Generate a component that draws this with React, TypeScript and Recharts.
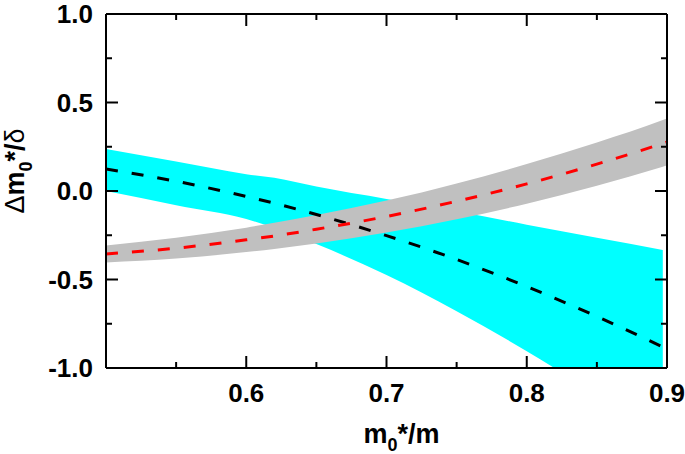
import { ComposedChart, Area, Line, XAxis, YAxis } from 'recharts';

// sample positions along m0*/m (cyan band stops a little short of 0.9)
const xValues = [0.5, 0.55, 0.6, 0.62, 0.65, 0.7, 0.75, 0.8, 0.85, 0.897, 0.9];

const cyanUpper = [0.237, 0.166, 0.095, 0.075, 0.025, -0.045, -0.114, -0.19, -0.264, -0.333, null];
const cyanLower = [0.0, -0.08, -0.158, -0.209, -0.3, -0.475, -0.68, -0.905, -1.15, -1.38, null];
const blackCurve = [0.124, 0.055, -0.031, -0.069, -0.133, -0.252, -0.387, -0.54, -0.709, -0.881, null];

const grayUpper = [-0.308, -0.264, -0.207, -0.18, -0.136, -0.054, 0.043, 0.152, 0.274, 0.401, 0.41];
const grayLower = [-0.404, -0.382, -0.345, -0.327, -0.296, -0.235, -0.159, -0.072, 0.03, 0.137, 0.144];
const redCurve = [-0.356, -0.323, -0.276, -0.254, -0.216, -0.144, -0.058, 0.04, 0.152, 0.269, 0.277];

const xTicks = [0.5, 0.55, 0.6, 0.65, 0.7, 0.75, 0.8, 0.85, 0.9];
const yTicks = [-1, -0.75, -0.5, -0.25, 0, 0.25, 0.5, 0.75, 1];

const data = xValues.map((x, i) => ({
  x,
  cyan: cyanUpper[i] == null ? null : [cyanLower[i], cyanUpper[i]],
  gray: [grayLower[i], grayUpper[i]],
  black: blackCurve[i],
  red: redCurve[i],
}));

const FONT = '"Liberation Sans", Arial, Helvetica, sans-serif';
const MAJOR = 12;
const MINOR = 6;

const isMajorX = (v: number) => Math.abs(v * 10 - Math.round(v * 10)) < 1e-6;
const isMajorY = (v: number) => Math.abs(v * 2 - Math.round(v * 2)) < 1e-6;

const BottomTick = (props: any) => {
  const { x, y, payload } = props;
  const v = payload.value;
  const major = isMajorX(v);
  return (
    <g>
      <line x1={x} x2={x} y1={y} y2={y - (major ? MAJOR : MINOR)} stroke="#000" strokeWidth={2} />
      {major && v > 0.501 && (
        <text x={x} y={y + 34} textAnchor="middle" fontFamily={FONT} fontWeight="bold" fontSize={26} fill="#000">
          {v.toFixed(1)}
        </text>
      )}
    </g>
  );
};

const TopTick = (props: any) => {
  const { x, y, payload } = props;
  const major = isMajorX(payload.value);
  return <line x1={x} x2={x} y1={y} y2={y + (major ? MAJOR : MINOR)} stroke="#000" strokeWidth={2} />;
};

const LeftTick = (props: any) => {
  const { x, y, payload } = props;
  const v = payload.value;
  const major = isMajorY(v);
  return (
    <g>
      <line x1={x} x2={x + (major ? MAJOR : MINOR)} y1={y} y2={y} stroke="#000" strokeWidth={2} />
      {major && (
        <text x={x - 13} y={y + 9} textAnchor="end" fontFamily={FONT} fontWeight="bold" fontSize={26} fill="#000">
          {v.toFixed(1)}
        </text>
      )}
    </g>
  );
};

const RightTick = (props: any) => {
  const { x, y, payload } = props;
  const major = isMajorY(payload.value);
  return <line x1={x} x2={x - (major ? MAJOR : MINOR)} y1={y} y2={y} stroke="#000" strokeWidth={2} />;
};

const XTitle = (props: any) => {
  const vb = props.viewBox;
  const cx = vb.x + vb.width / 2 + 15;
  const cy = vb.y + 75;
  return (
    <text x={cx} y={cy} textAnchor="middle" fontFamily={FONT} fontWeight="bold" fontSize={27} fill="#000">
      m<tspan fontSize={18} dy={8}>0</tspan>
      <tspan dy={-8}>*/m</tspan>
    </text>
  );
};

const YTitle = (props: any) => {
  const vb = props.viewBox;
  const cx = vb.x + 18;
  const cy = vb.y + vb.height / 2 - 20;
  return (
    <text
      x={cx}
      y={cy}
      transform={`rotate(-90, ${cx}, ${cy})`}
      textAnchor="middle"
      fontFamily={FONT}
      fontWeight="bold"
      fontSize={27}
      fill="#000"
    >
      <tspan fontWeight="normal">Δ</tspan>m<tspan fontSize={18} dy={8}>0</tspan>
      <tspan dy={-8}>*/</tspan>
      <tspan fontWeight="normal">δ</tspan>
    </text>
  );
};

const axisLine = { stroke: '#000', strokeWidth: 2 };

export default function App() {
  return (
    <div style={{ position: 'absolute', left: 0, top: 0, background: '#fff' }}>
      <ComposedChart width={685} height={454} data={data} margin={{ top: 13, right: 17, bottom: 26, left: 6 }}>
        <Area
          type="monotone"
          dataKey="cyan"
          stroke="none"
          fill="#00ffff"
          fillOpacity={1}
          isAnimationActive={false}
        />
        <Area
          type="monotone"
          dataKey="gray"
          stroke="none"
          fill="#c0c0c0"
          fillOpacity={1}
          isAnimationActive={false}
        />
        <Line
          type="monotone"
          dataKey="black"
          stroke="#000"
          strokeWidth={3}
          strokeDasharray="12 14"
          dot={false}
          isAnimationActive={false}
        />
        <Line
          type="monotone"
          dataKey="red"
          stroke="#ff0000"
          strokeWidth={3}
          strokeDasharray="12 14"
          dot={false}
          isAnimationActive={false}
        />
        <XAxis
          dataKey="x"
          type="number"
          domain={[0.5, 0.9]}
          ticks={xTicks}
          interval={0}
          allowDataOverflow
          height={60}
          tickSize={0}
          tickMargin={0}
          tickLine={false}
          axisLine={axisLine}
          tick={<BottomTick />}
          label={{ content: (p: any) => <XTitle {...p} /> }}
        />
        <XAxis
          xAxisId="top"
          orientation="top"
          dataKey="x"
          type="number"
          domain={[0.5, 0.9]}
          ticks={xTicks}
          interval={0}
          allowDataOverflow
          height={1}
          tickSize={0}
          tickMargin={0}
          tickLine={false}
          axisLine={axisLine}
          tick={<TopTick />}
        />
        <YAxis
          type="number"
          domain={[-1, 1]}
          ticks={yTicks}
          interval={0}
          allowDataOverflow
          width={100}
          tickSize={0}
          tickMargin={0}
          tickLine={false}
          axisLine={axisLine}
          tick={<LeftTick />}
          label={{ content: (p: any) => <YTitle {...p} /> }}
        />
        <YAxis
          yAxisId="right"
          orientation="right"
          type="number"
          domain={[-1, 1]}
          ticks={yTicks}
          interval={0}
          allowDataOverflow
          width={1}
          tickSize={0}
          tickMargin={0}
          tickLine={false}
          axisLine={axisLine}
          tick={<RightTick />}
        />
      </ComposedChart>
    </div>
  );
}
